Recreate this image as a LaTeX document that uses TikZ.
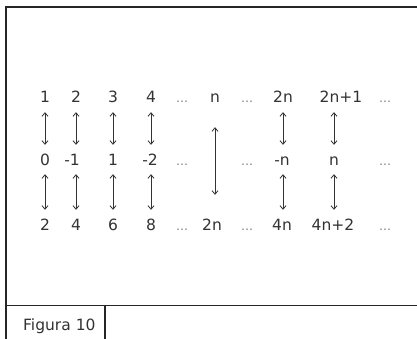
\documentclass[tikz,border=0pt]{standalone}
\usepackage{fontspec}
\setmainfont{DejaVu Sans}
\usetikzlibrary{arrows.meta}
\definecolor{txt}{HTML}{333333}
\definecolor{dotc}{HTML}{7A7A7A}
\definecolor{arrc}{HTML}{333333}
\tikzset{
  lab/.style={inner sep=0pt, anchor=base, text=txt, font=\fontsize{15.5}{18}\selectfont, text height=11pt, text depth=0pt},
  dots/.style={inner sep=0pt, anchor=base, text=dotc, font=\fontsize{12}{14}\selectfont, text height=11pt, text depth=0pt},
  arr/.style={draw=arrc, line width=0.8pt, {Straight Barb[length=3.5pt,width=6pt]}-{Straight Barb[length=3.5pt,width=6pt]}, shorten <=9pt, shorten >=9pt},
  longarr/.style={arr, shorten <=24pt, shorten >=24pt},
  frame/.style={draw=black!85, line width=1.4pt}
}
\begin{document}
\begin{tikzpicture}[x=1pt,y=-1pt]
\useasboundingbox (0,0) rectangle (417,339);
\fill[white] (0,0) rectangle (417,339);
% frame
\coordinate (tl) at (6,7);
\coordinate (tr) at (418,7);
\coordinate (bl) at (6,340);
\coordinate (ml) at (6,305.5);
\coordinate (mr) at (418,305.5);
\coordinate (vt) at (105,305.5);
\coordinate (vb) at (105,340);
\draw[frame] (tr) -- (tl) -- (bl);
\draw[frame] (ml) -- (mr);
\draw[frame] (vt) -- (vb);
\node[lab, anchor=base west] (fig) at (23,330) {Figura 10};
% row 1 (baseline 103)
\node[lab] (a1) at (45,103) {1};
\node[lab] (a2) at (76,103) {2};
\node[lab] (a3) at (113,103) {3};
\node[lab] (a4) at (151,103) {4};
\node[dots] (a5) at (182,103) {…};
\node[lab] (a6) at (215,103) {n};
\node[dots] (a7) at (247,103) {…};
\node[lab] (a8) at (283,103) {2n};
\node[lab] (a9) at (341,103) {2n+1};
\node[dots] (a10) at (385,103) {…};
% row 2 (baseline 165)
\node[lab] (b1) at (45,165) {0};
\node[lab] (b2) at (72,165) {-1};
\node[lab] (b3) at (113,165) {1};
\node[lab] (b4) at (150,165) {-2};
\node[dots] (b5) at (182,165) {…};
\node[dots] (b7) at (247,165) {…};
\node[lab] (b8) at (282,165) {-n};
\node[lab] (b9) at (334,165) {n};
\node[dots] (b10) at (385,165) {…};
% row 3 (baseline 230)
\node[lab] (c1) at (45,230) {2};
\node[lab] (c2) at (76,230) {4};
\node[lab] (c3) at (113,230) {6};
\node[lab] (c4) at (151,230) {8};
\node[dots] (c5) at (182,230) {…};
\node[lab] (c6) at (212,230) {2n};
\node[dots] (c7) at (247,230) {…};
\node[lab] (c8) at (282,230) {4n};
\node[lab] (c9) at (333,230) {4n+2};
\node[dots] (c10) at (385,230) {…};
% arrows
\foreach \i in {1,2,3,4,8} {
  \draw[arr] (a\i.south) -- (b\i.north -| a\i.south);
  \draw[arr] (b\i.south -| a\i.south) -- (c\i.north -| a\i.south);
}
\draw[arr] (a9.south -| b9.north) -- (b9.north);
\draw[arr] (b9.south) -- (c9.north -| b9.south);
\draw[longarr] (a6.south) -- (c6.north -| a6.south);
\end{tikzpicture}
\end{document}
